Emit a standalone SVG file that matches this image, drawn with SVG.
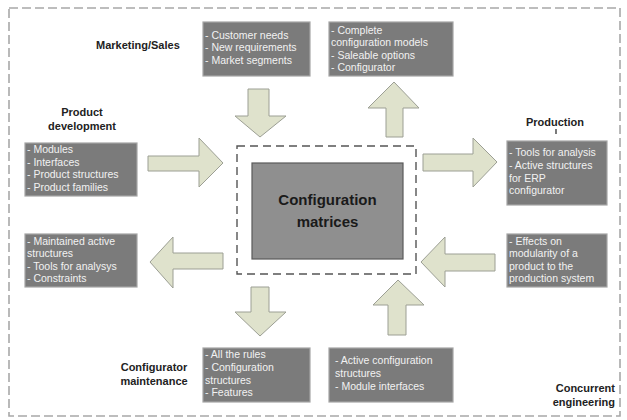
<svg xmlns="http://www.w3.org/2000/svg" width="627" height="420" viewBox="0 0 627 420">
<style>
.bg{fill:#ffffff}
.frame{fill:none;stroke:#a8a8a8;stroke-width:1.6;stroke-dasharray:9 4}
.cframe{fill:none;stroke:#555;stroke-width:1.4;stroke-dasharray:8 5}
.box{fill:#7b7b7b;stroke:#a5a5a5;stroke-width:1.2}
.core{fill:#8f8f8f;stroke:#5a5a5a;stroke-width:1.2}
.arr{fill:#dfe2cc;stroke:#9c9f94;stroke-width:1}
.bt{font-family:"Liberation Sans",Arial,sans-serif;font-size:10.5px;fill:#f2f2f2}
.lbl{font-family:"Liberation Sans",Arial,sans-serif;font-size:11px;font-weight:bold;fill:#222}
.ct{font-family:"Liberation Sans",Arial,sans-serif;font-size:15px;font-weight:bold;fill:#1a1a1a;text-anchor:middle}
</style>
<rect class="bg" x="0" y="0" width="627" height="420"/>
<rect class="frame" x="9" y="8" width="611" height="408"/>

<g id="center">
<rect class="cframe" x="237" y="146" width="179" height="128"/>
<rect class="core" x="252" y="163" width="151" height="96"/>
<text class="ct" x="327.5" y="205">Configuration</text>
<text class="ct" x="327.5" y="227">matrices</text>
</g>

<g id="marketing">
<text class="lbl" x="96" y="49">Marketing/Sales</text>
<rect class="box" x="203" y="22" width="107" height="54"/>
<text class="bt" x="205" y="39">- Customer needs</text>
<text class="bt" x="205" y="51">- New requirements</text>
<text class="bt" x="205" y="64">- Market segments</text>
</g>

<g id="configuration-models">
<rect class="box" x="329" y="22" width="124" height="54"/>
<text class="bt" x="331" y="34">- Complete</text>
<text class="bt" x="331" y="46">configuration models</text>
<text class="bt" x="331" y="59">- Saleable options</text>
<text class="bt" x="331" y="71">- Configurator</text>
</g>

<g id="product-development">
<text class="lbl" x="82" y="116" text-anchor="middle">Product</text>
<text class="lbl" x="82" y="130" text-anchor="middle">development</text>
<rect class="box" x="25" y="143" width="112" height="53"/>
<text class="bt" x="27" y="153">- Modules</text>
<text class="bt" x="27" y="166">- Interfaces</text>
<text class="bt" x="27" y="178">- Product structures</text>
<text class="bt" x="27" y="191">- Product families</text>
</g>

<g id="maintained">
<rect class="box" x="25" y="234" width="112" height="53"/>
<text class="bt" x="27" y="245">- Maintained active</text>
<text class="bt" x="27" y="257">structures</text>
<text class="bt" x="27" y="270">- Tools for analysys</text>
<text class="bt" x="27" y="282">- Constraints</text>
</g>

<g id="production">
<text class="lbl" x="555" y="126" text-anchor="middle">Production</text>
<rect class="box" x="507" y="141" width="100" height="64"/>
<text class="bt" x="509" y="156">- Tools for analysis</text>
<text class="bt" x="509" y="169">- Active structures</text>
<text class="bt" x="509" y="182">for ERP</text>
<text class="bt" x="509" y="194">configurator</text>
</g>

<g id="effects">
<rect class="box" x="507" y="234" width="100" height="53"/>
<text class="bt" x="509" y="245">- Effects on</text>
<text class="bt" x="509" y="257">modularity of a</text>
<text class="bt" x="509" y="270">product to the</text>
<text class="bt" x="509" y="282">production system</text>
</g>

<g id="configurator-maintenance">
<text class="lbl" x="154" y="371" text-anchor="middle">Configurator</text>
<text class="lbl" x="154" y="385" text-anchor="middle">maintenance</text>
<rect class="box" x="203" y="348" width="107" height="54"/>
<text class="bt" x="205" y="358">- All the rules</text>
<text class="bt" x="205" y="371">- Configuration</text>
<text class="bt" x="205" y="384">structures</text>
<text class="bt" x="205" y="396">- Features</text>
</g>

<g id="active-configuration">
<rect class="box" x="329" y="348" width="124" height="54"/>
<text class="bt" x="335" y="364">- Active configuration</text>
<text class="bt" x="335" y="377">structures</text>
<text class="bt" x="335" y="390">- Module interfaces</text>
</g>

<g id="concurrent">
<text class="lbl" x="615" y="392" text-anchor="end">Concurrent</text>
<text class="lbl" x="615" y="406" text-anchor="end">engineering</text>
</g>

<g id="connectors">
<polygon class="arr" points="248,89 269,89 269,116 286,116 260,137 235,116 248,116"/>
<polygon class="arr" points="386,137 403,137 403,108 419,108 394,82 368,108 386,108"/>
<polygon class="arr" points="148,156 199,156 199,138 223,163 199,187 199,171 148,171"/>
<polygon class="arr" points="223,253 173,253 173,237 150,262 173,288 173,269 223,269"/>
<polygon class="arr" points="423,154 473,154 473,138 497,162 473,187 473,171 423,171"/>
<polygon class="arr" points="495,254 445,254 445,237 421,262 445,287 445,271 495,271"/>
<polygon class="arr" points="251,287 269,287 269,312 286,312 260,336 235,312 251,312"/>
<polygon class="arr" points="388,335 406,335 406,305 424,305 398,280 373,305 388,305"/>
<line x1="556" y1="129" x2="556" y2="134" stroke="#222" stroke-width="1.2"/>
</g>
</svg>
